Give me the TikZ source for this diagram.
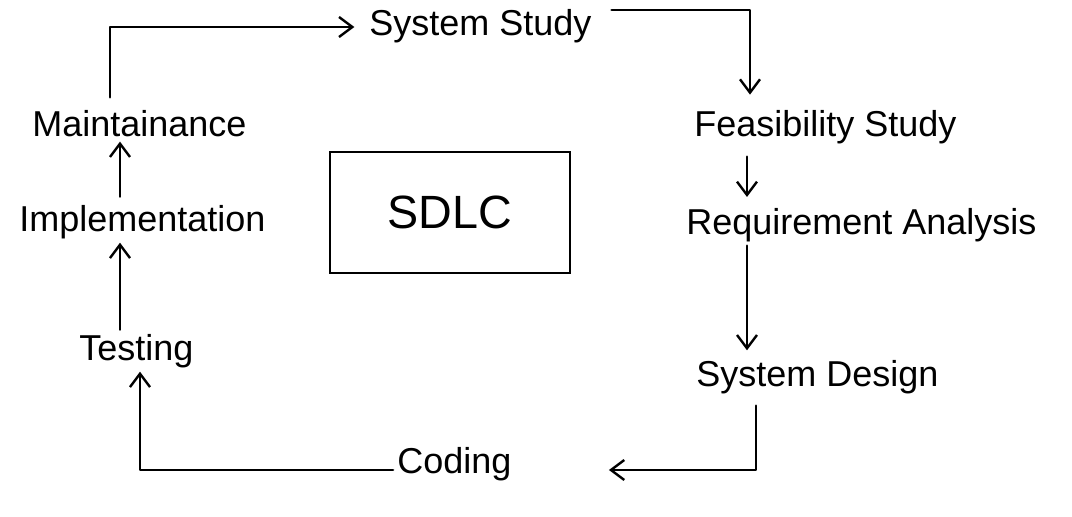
\documentclass[tikz,border=0pt]{standalone}
\usepackage{fontspec}
\setmainfont{Liberation Sans}
\usetikzlibrary{arrows.meta}
\tikzset{
  phase/.style={anchor=base west, inner sep=3pt, font=\fontsize{27}{32}\selectfont},
  flow/.style={line width=2pt, line cap=round, line join=round,
    -{Straight Barb[length=10pt,width=15pt,line width=1.8pt]}},
  framebox/.style={draw, line width=2pt, minimum width=180pt, minimum height=90.75pt,
    inner sep=0pt, font=\fontsize{35}{40}\selectfont}
}
\begin{document}
\begin{tikzpicture}[x=0.75pt, y=-0.75pt]
  \useasboundingbox[fill=white] (0,0) rectangle (1072,517);

  % phases of the life cycle
  \node[phase] (sys)   at (365,36)  {System Study};
  \node[phase] (feas)  at (690,137) {Feasibility Study};
  \node[phase] (req)   at (682,234) {Requirement Analysis};
  \node[phase] (des)   at (692,386) {System Design};
  \node[phase] (cod)   at (393,473) {Coding};
  \node[phase] (test)  at (75,360)  {Testing};
  \node[phase] (impl)  at (15,231)  {Implementation};
  \node[phase] (maint) at (28,137)  {Maintainance};

  % title box in the middle
  \node[framebox] (sdlc) at (450,212.5) {SDLC};

  % corner points of the bent connectors
  \coordinate (tl) at (110,27);
  \coordinate (tr) at (750,10);
  \coordinate (br) at (756,470);
  \coordinate (bl) at (140,470);
  \coordinate (colR) at (747,0);
  \coordinate (colL) at (120,0);

  % the cycle
  \draw[flow, shorten <=7pt, shorten >=8pt] (maint.north -| tl) -- (tl) -- (sys.west |- tl);
  \draw[flow] ([xshift=12pt]sys.east |- tr) -- (tr) -- ([yshift=9pt]tr |- feas.north);
  \draw[flow, shorten <=6pt, shorten >=5pt] (feas.south -| colR) -- (req.north -| colR);
  \draw[flow] (req.south -| colR) -- ([yshift=4pt]des.north -| colR);
  \draw[flow, shorten >=70pt] ([yshift=-6pt]br |- des.south) -- (br) -- (cod.east |- br);
  \draw[flow] (cod.west |- bl) -- (bl) -- (bl |- test.south);
  \draw[flow] (test.north -| colL) -- (impl.south -| colL);
  \draw[flow, shorten <=3pt] (impl.north -| colL) -- (maint.south -| colL);
\end{tikzpicture}
\end{document}
